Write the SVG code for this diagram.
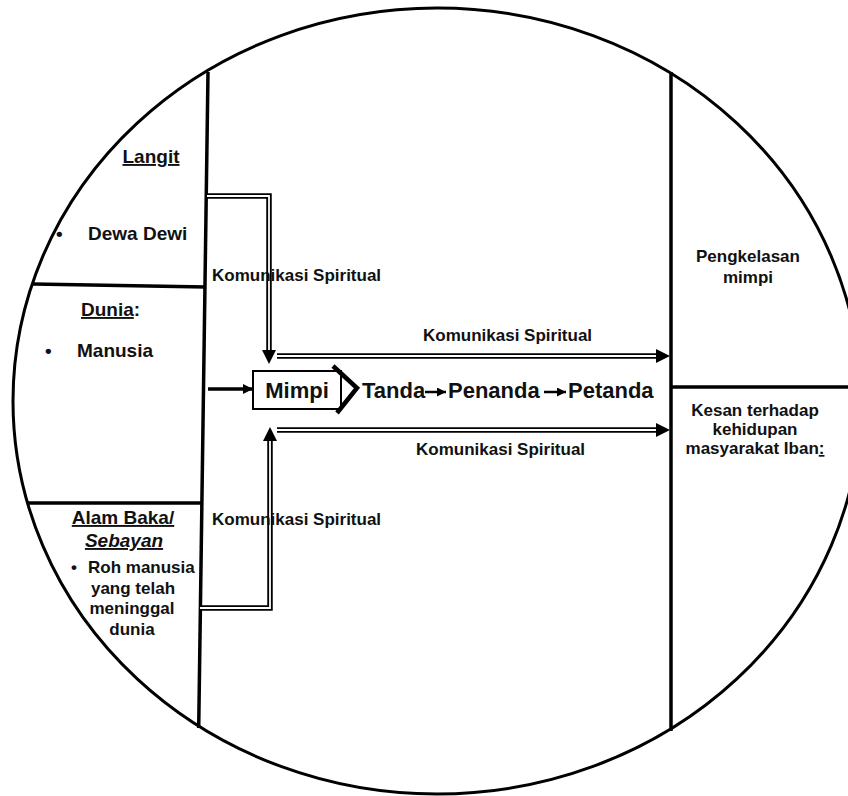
<svg xmlns="http://www.w3.org/2000/svg" width="848" height="796" viewBox="0 0 848 796">
<style>
text{font-family:"Liberation Sans",Arial,sans-serif;font-weight:bold;fill:#111}
.h{font-size:19px}
.b{font-size:17px}
.m{font-size:22px}
.k{font-size:17px}
.line{stroke:#000;stroke-width:3.5;fill:none}
.dbo{stroke:#000;stroke-width:5.5;fill:none}
.dbi{stroke:#fff;stroke-width:1.8;fill:none}
</style>
<defs>
<marker id="ah" viewBox="0 0 10 10" refX="10" refY="5" markerWidth="10" markerHeight="10" markerUnits="userSpaceOnUse" orient="auto">
<path d="M0,0 L10,5 L0,10 Z" fill="#000"/>
</marker>
<marker id="ahs" viewBox="0 0 10 10" refX="10" refY="5" markerWidth="9" markerHeight="9" markerUnits="userSpaceOnUse" orient="auto">
<path d="M0,0 L10,5 L0,10 Z" fill="#000"/>
</marker>
</defs>
<rect width="848" height="796" fill="#fff"/>
<g id="frame">
<ellipse cx="437" cy="401" rx="424" ry="393" fill="none" stroke="#000" stroke-width="3"/>
<line class="line" x1="208" y1="72" x2="198.7" y2="728"/>
<line class="line" x1="671" y1="72" x2="671" y2="731"/>
<line class="line" x1="33" y1="284" x2="206" y2="287"/>
<line class="line" x1="27" y1="503" x2="201" y2="503"/>
<line class="line" x1="671" y1="387" x2="848" y2="387"/>
</g>
<g id="langit">
<text class="h" x="151" y="163" text-anchor="middle" text-decoration="underline">Langit</text>
<text class="h" x="56" y="240">•</text>
<text class="h" x="88" y="240">Dewa Dewi</text>
</g>
<g id="dunia">
<text class="h" x="81" y="316"><tspan text-decoration="underline">Dunia</tspan>:</text>
<text class="h" x="45" y="357">•</text>
<text class="h" x="77" y="357">Manusia</text>
</g>
<g id="alam-baka">
<text class="h" x="123" y="524" text-anchor="middle" text-decoration="underline">Alam Baka/</text>
<text class="h" x="124" y="547" text-anchor="middle" text-decoration="underline"> <tspan font-style="italic">Sebayan</tspan></text>
<text class="b" x="71" y="573">•</text>
<text class="b" x="88" y="573">Roh manusia</text>
<text class="b" x="133" y="594" text-anchor="middle">yang telah</text>
<text class="b" x="132" y="614" text-anchor="middle">meninggal</text>
<text class="b" x="132" y="635" text-anchor="middle">dunia</text>
</g>
<g id="mimpi">
<rect x="253" y="371" width="88" height="38" fill="#fff" stroke="#000" stroke-width="2"/>
<text class="m" x="297" y="398" text-anchor="middle">Mimpi</text>
<polyline points="333,366 357,388 337,413" fill="none" stroke="#000" stroke-width="4.5"/>
</g>
<g id="tanda"><text class="m" x="362" y="398">Tanda</text></g>
<g id="penanda"><text class="m" x="448" y="398">Penanda</text></g>
<g id="petanda"><text class="m" x="568" y="398">Petanda</text></g>
<g id="pengkelasan">
<text class="b" x="748" y="262" text-anchor="middle">Pengkelasan</text>
<text class="b" x="748" y="283" text-anchor="middle">mimpi</text>
</g>
<g id="kesan">
<text class="b" x="755" y="416" text-anchor="middle">Kesan terhadap</text>
<text class="b" x="755" y="435" text-anchor="middle">kehidupan</text>
<text class="b" x="755" y="454" text-anchor="middle">masyarakat Iban<tspan text-decoration="underline">:</tspan></text>
</g>
<g id="connectors">
<line x1="208" y1="389" x2="253" y2="389" stroke="#000" stroke-width="3.5" marker-end="url(#ah)"/>
<line x1="425" y1="392" x2="446" y2="392" stroke="#000" stroke-width="2.5" marker-end="url(#ahs)"/>
<line x1="544" y1="392" x2="566" y2="392" stroke="#000" stroke-width="2.5" marker-end="url(#ahs)"/>
<path class="dbo" d="M207,196 H269 V352"/>
<path class="dbi" d="M207,196 H269 V352"/>
<path d="M262,350 L269,364 L276,350 Z" fill="#000"/>
<path class="dbo" d="M277,356 H658"/>
<path class="dbi" d="M277,356 H658"/>
<path d="M656,349 L670,356 L656,363 Z" fill="#000"/>
<path class="dbo" d="M277,430 H658"/>
<path class="dbi" d="M277,430 H658"/>
<path d="M656,423 L670,430 L656,437 Z" fill="#000"/>
<path class="dbo" d="M200,608 H270 V439"/>
<path class="dbi" d="M200,608 H270 V439"/>
<path d="M263,441 L270,427 L277,441 Z" fill="#000"/>
</g>
<g id="labels">
<text class="k" x="212" y="281">Komunikasi Spiritual</text>
<text class="k" x="423" y="341">Komunikasi Spiritual</text>
<text class="k" x="416" y="455">Komunikasi Spiritual</text>
<text class="k" x="212" y="525">Komunikasi Spiritual</text>
</g>
</svg>
